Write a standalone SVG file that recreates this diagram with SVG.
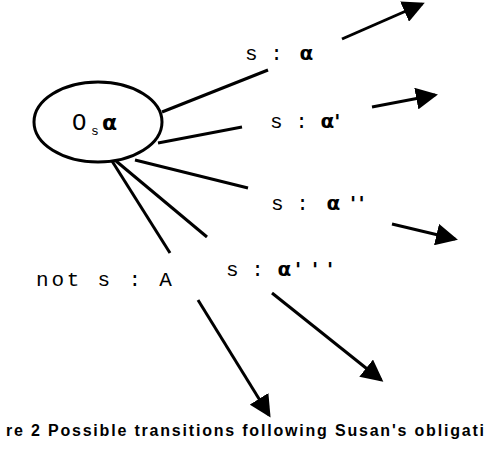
<svg xmlns="http://www.w3.org/2000/svg" width="492" height="450" viewBox="0 0 492 450">
<style>
.ln{stroke:#000;stroke-width:3;fill:none}
.ar{stroke:#000;stroke-width:3;fill:none;marker-end:url(#ah)}
.t{font-family:"Liberation Mono","DejaVu Sans Mono",monospace;font-size:21px;fill:#000}
.g{font-family:"DejaVu Sans","Liberation Sans",sans-serif;font-weight:bold;font-size:20px}
.cap{font-family:"Liberation Sans",Arial,sans-serif;font-weight:bold;font-size:16px;fill:#000}
</style>
<defs>
<marker id="ah" viewBox="0 0 22 22" refX="19" refY="11" markerWidth="22" markerHeight="22" markerUnits="userSpaceOnUse" orient="auto">
<path d="M0,0 L22,11 L0,22 z" fill="#000"/>
</marker>
</defs>
<g id="node-obligation">
<ellipse cx="98" cy="122" rx="64" ry="40" fill="#fff" stroke="#000" stroke-width="3"/>
<text class="t" x="72" y="130" style="font-size:24px">O<tspan x="91" y="135" style="font-size:13px">s</tspan><tspan class="g" x="102" y="130" style="font-size:22px">α</tspan></text>
</g>
<g id="connectors">
<line class="ln" x1="162" y1="112" x2="268" y2="70"/>
<line class="ar" x1="342" y1="39" x2="422" y2="4"/>
<line class="ln" x1="158" y1="143" x2="242" y2="127"/>
<line class="ar" x1="372" y1="107" x2="435" y2="95"/>
<line class="ln" x1="135" y1="160" x2="248" y2="188"/>
<line class="ar" x1="392" y1="224" x2="455" y2="239"/>
<line class="ln" x1="112" y1="161" x2="170" y2="253"/>
<line class="ar" x1="198" y1="300" x2="269" y2="415"/>
<line class="ln" x1="116" y1="161" x2="207" y2="237"/>
<line class="ar" x1="272" y1="293" x2="381" y2="380"/>
</g>
<g id="label-a">
<text class="t" x="245" y="60">s : <tspan class="g" dx="4">α</tspan></text>
</g>
<g id="label-a1">
<text class="t" x="270" y="128">s : <tspan class="g">α'</tspan></text>
</g>
<g id="label-a2">
<text class="t" x="271" y="210">s : <tspan class="g" dx="5">α</tspan><tspan class="g" x="350">'</tspan><tspan class="g" x="358.5">'</tspan></text>
</g>
<g id="label-a3">
<text class="t" x="226" y="276">s : <tspan class="g" dx="1">α</tspan><tspan class="g" x="295">'</tspan><tspan class="g" x="312">'</tspan><tspan class="g" x="327">'</tspan></text>
</g>
<g id="label-not">
<text class="t" x="36" y="286" letter-spacing="2.8">not s : A</text>
</g>
<g id="caption">
<text class="cap" x="6" y="436" textLength="478" lengthAdjust="spacing">re 2 Possible transitions following Susan's obligati</text>
</g>
</svg>
